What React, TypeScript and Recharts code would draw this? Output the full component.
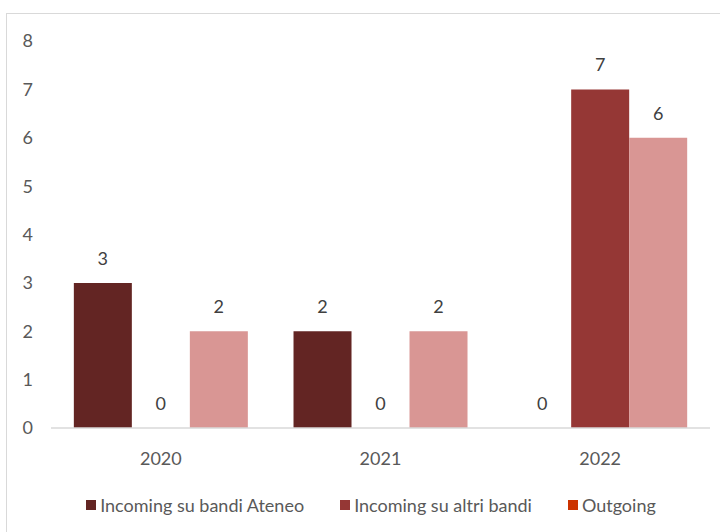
import React from "react";
import { BarChart, Bar, XAxis, YAxis, LabelList } from "recharts";

const years = ["2020", "2021", "2022"];
const ateneo = [3, 2, 0];
const altri = [0, 0, 7];
const outgoing = [2, 2, 6];
const yTicks = [0, 1, 2, 3, 4, 5, 6, 7, 8];

const seriesNames = ["Incoming su bandi Ateneo", "Incoming su altri bandi", "Outgoing"];
const legendColors = ["#632523", "#953735", "#cc3300"];

const data = years.map((y, i) => ({
  year: y,
  ateneo: ateneo[i],
  altri: altri[i],
  outgoing: outgoing[i],
}));

const font = "Lato, 'Open Sans', sans-serif";
const tickStyle = { fill: "#595959", fontSize: 18, fontFamily: font };
const labelStyle = { fill: "#404040", fontSize: 18, fontFamily: font };

export default function App() {
  return (
    <div style={{ position: "absolute", left: 0, top: 0, width: 720, height: 532, overflow: "hidden", background: "#fff" }}>
      <div
        style={{
          position: "absolute",
          left: 6,
          top: 13,
          width: 740,
          height: 560,
          border: "1px solid #d9d9d9",
        }}
      />
      <BarChart
        width={720}
        height={532}
        data={data}
        margin={{ top: 41, right: 10, left: 0, bottom: 74 }}
        barCategoryGap="10.4%"
        barGap={0}
        style={{ position: "absolute", left: 0, top: 0 }}
      >
        <XAxis
          dataKey="year"
          axisLine={{ stroke: "#d9d9d9", strokeWidth: 1.5 }}
          tickLine={false}
          tick={tickStyle}
          tickMargin={18}
        />
        <YAxis
          width={51}
          domain={[0, 8]}
          ticks={yTicks}
          axisLine={false}
          tickLine={false}
          tick={tickStyle}
          tickMargin={12}
        />
        <Bar dataKey="ateneo" name={seriesNames[0]} fill="#632523" minPointSize={0.01} isAnimationActive={false}>
          <LabelList dataKey="ateneo" position="top" offset={18} style={labelStyle} />
        </Bar>
        <Bar dataKey="altri" name={seriesNames[1]} fill="#953735" minPointSize={0.01} isAnimationActive={false}>
          <LabelList dataKey="altri" position="top" offset={18} style={labelStyle} />
        </Bar>
        <Bar dataKey="outgoing" name={seriesNames[2]} fill="#d99694" minPointSize={0.01} isAnimationActive={false}>
          <LabelList dataKey="outgoing" position="top" offset={18} style={labelStyle} />
        </Bar>
      </BarChart>
      <div
        style={{
          position: "absolute",
          left: 0,
          top: 494,
          width: 720,
          display: "flex",
          justifyContent: "center",
          gap: 36,
          paddingLeft: 22,
          boxSizing: "border-box",
          fontFamily: font,
          fontSize: 18,
          color: "#595959",
        }}
      >
        {seriesNames.map((n, i) => (
          <div key={n} style={{ display: "flex", alignItems: "center", gap: 4 }}>
            <span style={{ width: 10, height: 10, background: legendColors[i], display: "inline-block" }} />
            <span>{n}</span>
          </div>
        ))}
      </div>
    </div>
  );
}
